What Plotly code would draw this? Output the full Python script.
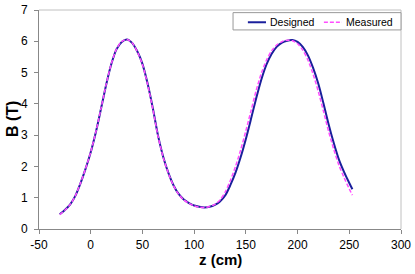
import plotly.graph_objects as go

z = [-30, -25, -20, -15, -10, -5, 0, 5, 10, 15, 20, 25, 30, 35, 40, 45, 50, 55, 60, 65,
     70, 75, 80, 85, 90, 95, 100, 105, 110, 115, 120, 125, 130, 135, 140, 145, 150, 155,
     160, 165, 170, 175, 180, 185, 190, 195, 200, 205, 210, 215, 220, 225, 230, 235, 240,
     245, 250, 253]

designed = [0.47, 0.61, 0.78, 1.05, 1.45, 1.92, 2.45, 3.10, 3.85, 4.62, 5.28, 5.75, 5.98,
            6.06, 5.95, 5.68, 5.28, 4.65, 3.87, 3.00, 2.32, 1.80, 1.40, 1.12, 0.94, 0.83,
            0.75, 0.71, 0.69, 0.71, 0.77, 0.88, 1.07, 1.40, 1.80, 2.30, 2.88, 3.52, 4.18,
            4.78, 5.26, 5.60, 5.83, 5.96, 6.02, 6.04, 5.98, 5.82, 5.55, 5.15, 4.65, 4.02,
            3.35, 2.75, 2.22, 1.82, 1.47, 1.27]

measured = [0.46, 0.60, 0.78, 1.05, 1.46, 1.93, 2.46, 3.11, 3.86, 4.63, 5.29, 5.76, 5.99,
            6.06, 5.95, 5.67, 5.26, 4.62, 3.84, 2.98, 2.30, 1.79, 1.39, 1.11, 0.93, 0.82,
            0.74, 0.70, 0.69, 0.72, 0.79, 0.93, 1.18, 1.55, 2.00, 2.53, 3.14, 3.78, 4.43,
            4.98, 5.40, 5.70, 5.89, 5.99, 6.03, 6.02, 5.92, 5.72, 5.40, 4.95, 4.40, 3.77,
            3.12, 2.55, 2.04, 1.64, 1.28, 1.08]

x_ticks = [-50, 0, 50, 100, 150, 200, 250, 300]
x_tick_labels = ["-50", "0", "50", "100", "150", "200", "250", "300"]
y_ticks = [0, 1, 2, 3, 4, 5, 6, 7]
series_names = ["Designed", "Measured"]

font = "Liberation Sans, Arial, sans-serif"
c_des = "#1a1f9c"
c_mea = "#ff4dff"

fig = go.Figure()
fig.add_trace(go.Scatter(x=z, y=designed, mode="lines", name=series_names[0],
                         line=dict(color=c_des, width=2, shape="spline", smoothing=0.8)))
fig.add_trace(go.Scatter(x=z, y=measured, mode="lines", name=series_names[1],
                         line=dict(color=c_mea, width=1.5, dash="4px,2px",
                                   shape="spline", smoothing=0.8)))

# manual legend (paper coords of plot area)
ly = 0.944
shapes = [
    dict(type="line", xref="paper", yref="paper", x0=0, x1=1, y0=1, y1=1,
         line=dict(color="#c0c0c0", width=1)),
    dict(type="line", xref="paper", yref="paper", x0=1, x1=1, y0=0, y1=1,
         line=dict(color="#c0c0c0", width=1)),
    dict(type="rect", xref="paper", yref="paper", x0=0.536, x1=1.0, y0=0.909, y1=0.988,
         line=dict(color="#999999", width=1), fillcolor="white", layer="above"),
    dict(type="line", xref="paper", yref="paper", x0=0.577, x1=0.627, y0=ly, y1=ly,
         line=dict(color=c_des, width=2), layer="above"),
    dict(type="line", xref="paper", yref="paper", x0=0.787, x1=0.837, y0=ly, y1=ly,
         line=dict(color=c_mea, width=1.5, dash="4px,2px"), layer="above"),
]
annotations = [
    dict(text=series_names[0], xref="paper", yref="paper", x=0.632, y=ly,
         xanchor="left", yanchor="middle", showarrow=False, font=dict(size=10.5)),
    dict(text=series_names[1], xref="paper", yref="paper", x=0.842, y=ly,
         xanchor="left", yanchor="middle", showarrow=False, font=dict(size=10.5)),
    dict(text="<b>z (cm)</b>", xref="paper", yref="paper", x=0.5, y=-0.137,
         xanchor="center", yanchor="middle", showarrow=False, font=dict(size=15),
         borderpad=0),
    dict(text="<b>B (T)</b>", xref="paper", yref="paper", x=-0.073, y=0.5,
         xanchor="center", yanchor="middle", showarrow=False, textangle=-90,
         font=dict(size=16), borderpad=0),
]

fig.update_layout(
    width=415, height=274,
    margin=dict(l=39, r=14, t=10, b=45, autoexpand=False),
    paper_bgcolor="white", plot_bgcolor="white",
    font=dict(family=font, size=12, color="black"),
    showlegend=False,
    xaxis=dict(range=[-50, 300], tickvals=x_ticks, ticktext=x_tick_labels,
               showgrid=False, zeroline=False,
               showline=True, linecolor="#888888", linewidth=1, automargin=False,
               ticks="outside", ticklen=4, tickcolor="#888888", ticklabelstandoff=1),
    yaxis=dict(range=[0, 7], tickvals=y_ticks, showgrid=False, zeroline=False,
               showline=True, linecolor="#888888", linewidth=1, automargin=False,
               ticks="outside", ticklen=4, tickcolor="#888888", ticklabelstandoff=4),
    shapes=shapes,
    annotations=annotations,
)

fig.write_html(
    "out.html",
    config={"displayModeBar": False},
    post_script="document.body.style.margin='0';document.body.style.padding='0';"
                "document.body.style.overflow='hidden';",
)
